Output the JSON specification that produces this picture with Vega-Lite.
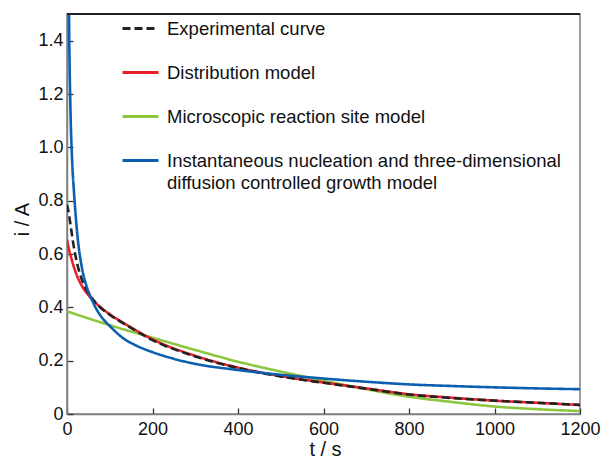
{
  "$schema": "https://vega.github.io/schema/vega-lite/v6.json",
  "width": 513,
  "height": 400,
  "autosize": "none",
  "padding": {"left": 67, "top": 14, "right": 22, "bottom": 47},
  "background": "white",
  "config": {
    "font": "Liberation Sans",
    "view": {"stroke": "#808080", "strokeWidth": 1.5},
    "axis": {"grid": false},
    "style": {"guide-label": {"lineHeight": 22}}
  },
  "data": {
    "values": [
      {"s": "Microscopic reaction site model", "t": 0, "i": 0.385},
      {"s": "Microscopic reaction site model", "t": 100, "i": 0.333},
      {"s": "Microscopic reaction site model", "t": 200, "i": 0.286},
      {"s": "Microscopic reaction site model", "t": 300, "i": 0.24},
      {"s": "Microscopic reaction site model", "t": 400, "i": 0.196},
      {"s": "Microscopic reaction site model", "t": 500, "i": 0.159},
      {"s": "Microscopic reaction site model", "t": 600, "i": 0.125},
      {"s": "Microscopic reaction site model", "t": 700, "i": 0.093},
      {"s": "Microscopic reaction site model", "t": 800, "i": 0.065},
      {"s": "Microscopic reaction site model", "t": 900, "i": 0.045},
      {"s": "Microscopic reaction site model", "t": 1000, "i": 0.028},
      {"s": "Microscopic reaction site model", "t": 1100, "i": 0.018},
      {"s": "Microscopic reaction site model", "t": 1200, "i": 0.011},
      {"s": "Distribution model", "t": 0, "i": 0.653},
      {"s": "Distribution model", "t": 5, "i": 0.615},
      {"s": "Distribution model", "t": 10, "i": 0.585},
      {"s": "Distribution model", "t": 15, "i": 0.557},
      {"s": "Distribution model", "t": 20, "i": 0.533},
      {"s": "Distribution model", "t": 25, "i": 0.512},
      {"s": "Distribution model", "t": 30, "i": 0.495},
      {"s": "Distribution model", "t": 40, "i": 0.467},
      {"s": "Distribution model", "t": 50, "i": 0.446},
      {"s": "Distribution model", "t": 60, "i": 0.428},
      {"s": "Distribution model", "t": 75, "i": 0.405},
      {"s": "Distribution model", "t": 100, "i": 0.374},
      {"s": "Distribution model", "t": 140, "i": 0.334},
      {"s": "Distribution model", "t": 200, "i": 0.28},
      {"s": "Distribution model", "t": 300, "i": 0.218},
      {"s": "Distribution model", "t": 400, "i": 0.174},
      {"s": "Distribution model", "t": 500, "i": 0.142},
      {"s": "Distribution model", "t": 600, "i": 0.118},
      {"s": "Distribution model", "t": 700, "i": 0.096},
      {"s": "Distribution model", "t": 800, "i": 0.074},
      {"s": "Distribution model", "t": 900, "i": 0.061},
      {"s": "Distribution model", "t": 1000, "i": 0.05},
      {"s": "Distribution model", "t": 1100, "i": 0.042},
      {"s": "Distribution model", "t": 1200, "i": 0.034},
      {"s": "Experimental curve", "t": 0, "i": 0.785},
      {"s": "Experimental curve", "t": 5, "i": 0.745},
      {"s": "Experimental curve", "t": 10, "i": 0.69},
      {"s": "Experimental curve", "t": 15, "i": 0.636},
      {"s": "Experimental curve", "t": 20, "i": 0.592},
      {"s": "Experimental curve", "t": 25, "i": 0.556},
      {"s": "Experimental curve", "t": 30, "i": 0.527},
      {"s": "Experimental curve", "t": 40, "i": 0.484},
      {"s": "Experimental curve", "t": 50, "i": 0.454},
      {"s": "Experimental curve", "t": 60, "i": 0.431},
      {"s": "Experimental curve", "t": 75, "i": 0.404},
      {"s": "Experimental curve", "t": 100, "i": 0.372},
      {"s": "Experimental curve", "t": 140, "i": 0.332},
      {"s": "Experimental curve", "t": 200, "i": 0.277},
      {"s": "Experimental curve", "t": 300, "i": 0.216},
      {"s": "Experimental curve", "t": 400, "i": 0.172},
      {"s": "Experimental curve", "t": 500, "i": 0.141},
      {"s": "Experimental curve", "t": 600, "i": 0.117},
      {"s": "Experimental curve", "t": 700, "i": 0.095},
      {"s": "Experimental curve", "t": 800, "i": 0.073},
      {"s": "Experimental curve", "t": 900, "i": 0.06},
      {"s": "Experimental curve", "t": 1000, "i": 0.05},
      {"s": "Experimental curve", "t": 1100, "i": 0.042},
      {"s": "Experimental curve", "t": 1200, "i": 0.034},
      {"s": "Instantaneous nucleation and three-dimensional diffusion controlled growth model", "t": 3, "i": 1.9},
      {"s": "Instantaneous nucleation and three-dimensional diffusion controlled growth model", "t": 5, "i": 1.45},
      {"s": "Instantaneous nucleation and three-dimensional diffusion controlled growth model", "t": 8, "i": 1.15},
      {"s": "Instantaneous nucleation and three-dimensional diffusion controlled growth model", "t": 12, "i": 0.95},
      {"s": "Instantaneous nucleation and three-dimensional diffusion controlled growth model", "t": 16, "i": 0.84},
      {"s": "Instantaneous nucleation and three-dimensional diffusion controlled growth model", "t": 20, "i": 0.75},
      {"s": "Instantaneous nucleation and three-dimensional diffusion controlled growth model", "t": 26, "i": 0.645},
      {"s": "Instantaneous nucleation and three-dimensional diffusion controlled growth model", "t": 35, "i": 0.548},
      {"s": "Instantaneous nucleation and three-dimensional diffusion controlled growth model", "t": 45, "i": 0.483},
      {"s": "Instantaneous nucleation and three-dimensional diffusion controlled growth model", "t": 55, "i": 0.44},
      {"s": "Instantaneous nucleation and three-dimensional diffusion controlled growth model", "t": 70, "i": 0.39},
      {"s": "Instantaneous nucleation and three-dimensional diffusion controlled growth model", "t": 85, "i": 0.355},
      {"s": "Instantaneous nucleation and three-dimensional diffusion controlled growth model", "t": 100, "i": 0.33},
      {"s": "Instantaneous nucleation and three-dimensional diffusion controlled growth model", "t": 130, "i": 0.286},
      {"s": "Instantaneous nucleation and three-dimensional diffusion controlled growth model", "t": 160, "i": 0.258},
      {"s": "Instantaneous nucleation and three-dimensional diffusion controlled growth model", "t": 200, "i": 0.232},
      {"s": "Instantaneous nucleation and three-dimensional diffusion controlled growth model", "t": 250, "i": 0.207},
      {"s": "Instantaneous nucleation and three-dimensional diffusion controlled growth model", "t": 300, "i": 0.188},
      {"s": "Instantaneous nucleation and three-dimensional diffusion controlled growth model", "t": 400, "i": 0.165},
      {"s": "Instantaneous nucleation and three-dimensional diffusion controlled growth model", "t": 500, "i": 0.147},
      {"s": "Instantaneous nucleation and three-dimensional diffusion controlled growth model", "t": 600, "i": 0.133},
      {"s": "Instantaneous nucleation and three-dimensional diffusion controlled growth model", "t": 700, "i": 0.121},
      {"s": "Instantaneous nucleation and three-dimensional diffusion controlled growth model", "t": 800, "i": 0.111},
      {"s": "Instantaneous nucleation and three-dimensional diffusion controlled growth model", "t": 900, "i": 0.105},
      {"s": "Instantaneous nucleation and three-dimensional diffusion controlled growth model", "t": 1000, "i": 0.1},
      {"s": "Instantaneous nucleation and three-dimensional diffusion controlled growth model", "t": 1100, "i": 0.096},
      {"s": "Instantaneous nucleation and three-dimensional diffusion controlled growth model", "t": 1200, "i": 0.093}
    ]
  },
  "layer": [
    {
      "mark": {"type": "line", "strokeWidth": 2.6, "clip": true, "interpolate": "monotone"},
      "encoding": {
        "x": {
          "field": "t", "type": "quantitative",
          "scale": {"domain": [0, 1200], "nice": false},
          "axis": {
            "orient": "bottom",
            "values": [0, 200, 400, 600, 800, 1000, 1200],
            "format": "d",
            "title": "t / s",
            "titleFontSize": 20, "titleFontWeight": "normal", "titleColor": "#111",
            "titleX": 258, "titleY": 41, "titleBaseline": "alphabetic", "titleAnchor": null,
            "labelFontSize": 18, "labelColor": "#111",
            "domainColor": "#808080", "domainWidth": 1.5,
            "tickColor": "#333", "tickSize": -6, "tickWidth": 1.3,
            "labelPadding": 12, "labelFlush": false, "labelOverlap": false
          }
        },
        "y": {
          "field": "i", "type": "quantitative",
          "scale": {"domain": [0, 1.5], "nice": false},
          "axis": {
            "values": [0, 0.2, 0.4, 0.6, 0.8, 1.0, 1.2, 1.4],
            "labelExpr": "datum.value == 0 ? '0' : format(datum.value, '.1f')",
            "title": "i / A",
            "titleFontSize": 20, "titleFontWeight": "normal", "titleColor": "#111",
            "titleX": -39, "titleY": 205, "titleAngle": -90, "titleBaseline": "alphabetic", "titleAlign": "center",
            "labelFontSize": 18, "labelColor": "#111",
            "domainColor": "#808080", "domainWidth": 1.5,
            "tickColor": "#333", "tickSize": -6, "tickWidth": 1.3,
            "labelPadding": 10, "labelFlush": false, "labelOverlap": false
          }
        },
        "color": {
          "field": "s", "type": "nominal",
          "scale": {
            "domain": ["Experimental curve", "Distribution model", "Microscopic reaction site model", "Instantaneous nucleation and three-dimensional diffusion controlled growth model"],
            "range": ["#222222", "#e8202a", "#8cc63f", "#0a5fb0"]
          },
          "legend": {
            "title": null,
            "orient": "none", "legendX": 54, "legendY": -5,
            "symbolType": "stroke", "symbolSize": 1296, "symbolStrokeWidth": 3,
            "labelFontSize": 18.5, "labelColor": "#111", "labelLimit": 600,
            "labelOffset": 7, "rowPadding": 15,
            "labelExpr": "datum.label == 'Instantaneous nucleation and three-dimensional diffusion controlled growth model' ? ['Instantaneous nucleation and three-dimensional', 'diffusion controlled growth model'] : datum.label"
          }
        },
        "strokeDash": {
          "field": "s", "type": "nominal",
          "scale": {
            "domain": ["Experimental curve", "Distribution model", "Microscopic reaction site model", "Instantaneous nucleation and three-dimensional diffusion controlled growth model"],
            "range": [[8, 4], [1, 0], [1, 0], [1, 0]]
          },
          "legend": null
        }
      }
    },
    {
      "mark": {"type": "rule", "color": "#222", "strokeWidth": 1.5},
      "encoding": {"y": {"datum": 1.5}}
    }
  ]
}
